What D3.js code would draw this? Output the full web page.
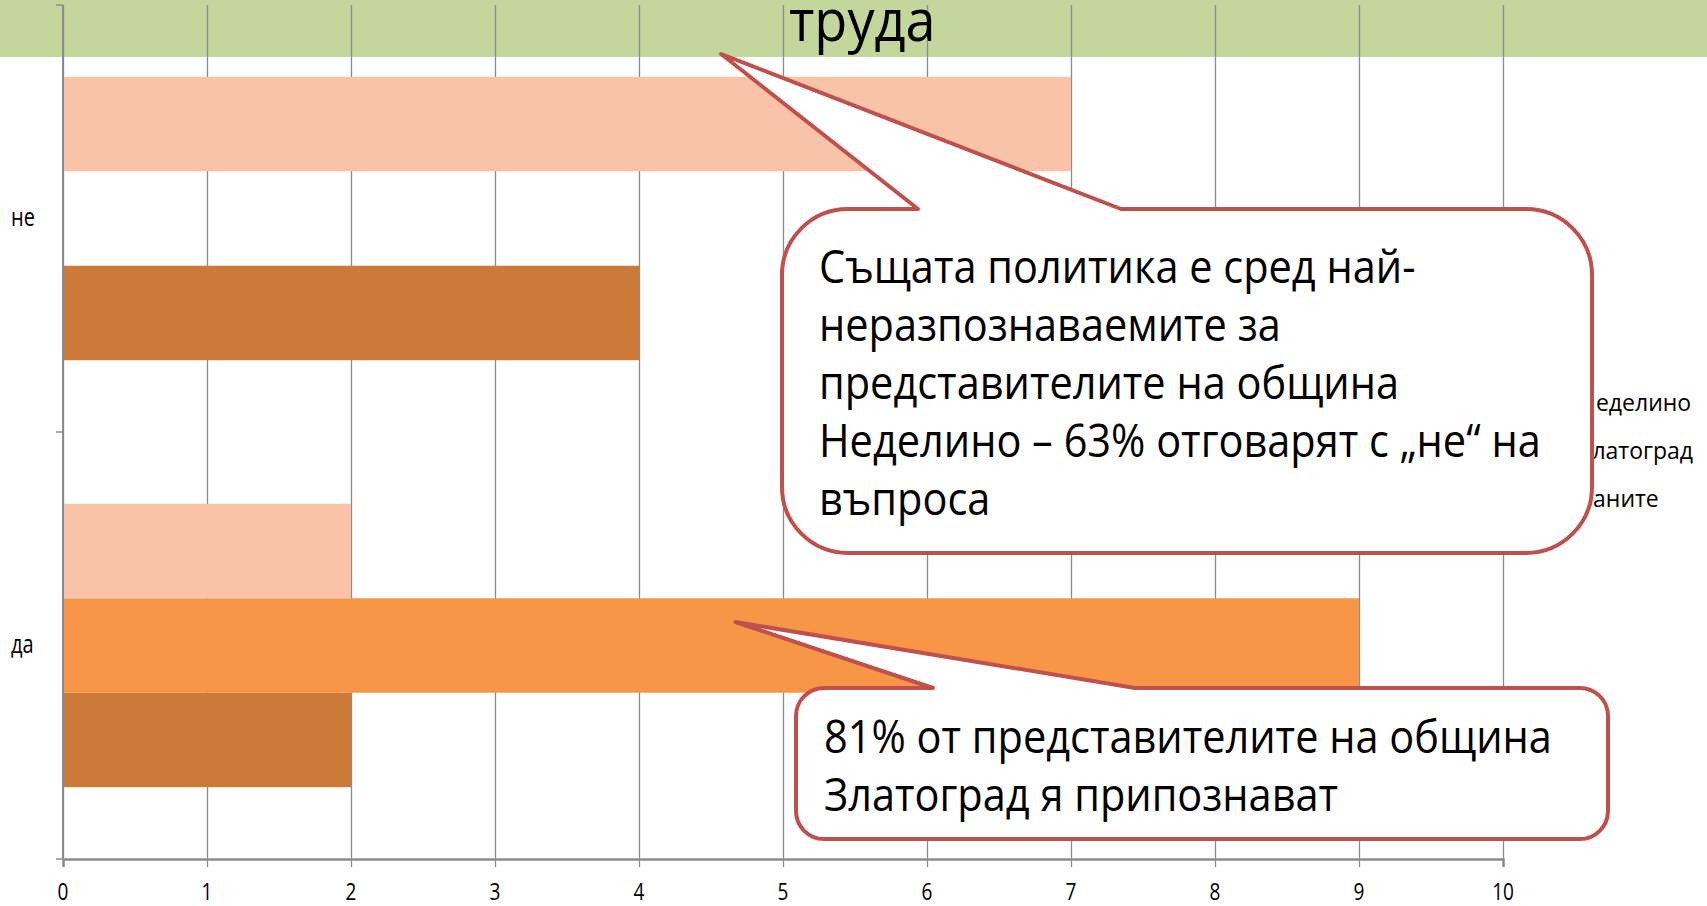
<!DOCTYPE html>
<html lang="bg">
<head>
<meta charset="UTF-8" />
<title>труда</title>
<style>
  body { margin: 0; background: #fff; overflow: hidden; }
  svg { display: block; font-family: "Open Sans", "Noto Sans", sans-serif; }
</style>
</head>
<body>
<script src="https://d3js.org/d3.v7.min.js"></script>
<script>
// данни
const categories = ["не", "да"];
const seriesNames = ["Неделино", "Златоград", "Баните"];
const nedelino = [4, 2];
const zlatograd = [0, 9];
const banite = [7, 2];
const xTicks = [0, 1, 2, 3, 4, 5, 6, 7, 8, 9, 10];
const titleText = "труда";
const note1 = ["Същата политика е сред най-", "неразпознаваемите за", "представителите на община", "Неделино – 63% отговарят с „не“ на", "въпроса"];
const note2 = ["81% от представителите на община", "Златоград я припознават"];

const W = 1707, H = 906;
const stretch = 1.25; // текстът в оригинала е разтеглен вертикално
const colors = { "Неделино": "#CC7A38", "Златоград": "#F79646", "Баните": "#F9C3A7" };
const seriesValues = { "Неделино": nedelino, "Златоград": zlatograd, "Баните": banite };

const svg = d3.select("body").append("svg").attr("width", W).attr("height", H);

// зелена лента на заглавието
svg.append("rect").attr("x", 0).attr("y", 0).attr("width", W).attr("height", 57).attr("fill", "#C3D69B");

const plot = { left: 63, right: 1503, top: 5, bottom: 859 };

const x = d3.scaleLinear().domain([0, 10]).range([plot.left, plot.right]);
const y = d3.scaleBand().domain(categories).range([plot.top, plot.bottom]).padding(0);
const inner = d3.scaleBand().domain(seriesNames.slice().reverse())
  .range([0, y.bandwidth()]).paddingInner(0).paddingOuter(0.76);

// решетка
svg.append("g")
  .attr("transform", `translate(0,${plot.bottom})`)
  .call(d3.axisBottom(x).tickValues(xTicks).tickSize(-(plot.bottom - plot.top)).tickFormat(""))
  .call(g => g.select(".domain").remove())
  .call(g => g.selectAll("line").attr("stroke", "#8C8C8C").attr("stroke-width", 1.3));

// колони
seriesNames.forEach(name => {
  svg.append("g").selectAll("rect")
    .data(categories.map((c, i) => ({ c, v: seriesValues[name][i] })))
    .join("rect")
    .attr("x", x(0))
    .attr("y", d => y(d.c) + inner(name))
    .attr("width", d => x(d.v) - x(0))
    .attr("height", inner.bandwidth())
    .attr("fill", colors[name]);
});

// оси
const xAxis = svg.append("g")
  .attr("transform", `translate(0,${plot.bottom})`)
  .call(d3.axisBottom(x).tickValues(xTicks).tickSize(8).tickFormat(""));
xAxis.select(".domain").attr("stroke", "#8C8C8C").attr("stroke-width", 2.5);
xAxis.selectAll("line").attr("stroke", "#8C8C8C").attr("stroke-width", 1.3);

svg.append("g").selectAll("text")
  .data(xTicks)
  .join("text")
  .attr("transform", d => `translate(${x(d)},900) scale(1,${stretch})`)
  .attr("text-anchor", "middle")
  .attr("font-size", 19)
  .text(d => d);

const yAxis = svg.append("g")
  .attr("transform", `translate(${plot.left},0)`);
yAxis.append("line").attr("x1", 0).attr("x2", 0).attr("y1", plot.top).attr("y2", plot.bottom)
  .attr("stroke", "#8C8C8C").attr("stroke-width", 2);
yAxis.selectAll("line.tick")
  .data([plot.top, y("да"), plot.bottom])
  .join("line").attr("class", "tick")
  .attr("x1", -7).attr("x2", 0).attr("y1", d => d).attr("y2", d => d)
  .attr("stroke", "#8C8C8C").attr("stroke-width", 1.5);

svg.append("g").selectAll("text")
  .data(categories)
  .join("text")
  .attr("transform", d => `translate(11,${y(d) + y.bandwidth() / 2 + 7}) scale(1,${stretch})`)
  .attr("font-size", 20)
  .text(d => d);

// легенда (частично скрита под балона)
const legend = svg.append("g");
seriesNames.forEach((name, i) => {
  const ly = 411 + i * 48;
  legend.append("rect").attr("x", 1555).attr("y", ly - 14).attr("width", 14).attr("height", 14).attr("fill", colors[name]);
  legend.append("text")
    .attr("transform", `translate(1579,${ly}) scale(1,1.05)`)
    .attr("font-size", 23)
    .text(name);
});

// заглавие
svg.append("text")
  .attr("transform", `translate(${x(5.55)},41) scale(1,1.08)`)
  .attr("text-anchor", "middle")
  .attr("font-size", 54)
  .text(titleText);

// балони
function calloutPath(b, tip) {
  const p = d3.path();
  p.moveTo(b.x0 + b.r, b.y0);
  p.lineTo(b.p0, b.y0);
  p.lineTo(tip[0], tip[1]);
  p.lineTo(b.p1, b.y0);
  p.lineTo(b.x1 - b.r, b.y0);
  p.arcTo(b.x1, b.y0, b.x1, b.y0 + b.r, b.r);
  p.lineTo(b.x1, b.y1 - b.r);
  p.arcTo(b.x1, b.y1, b.x1 - b.r, b.y1, b.r);
  p.lineTo(b.x0 + b.r, b.y1);
  p.arcTo(b.x0, b.y1, b.x0, b.y1 - b.r, b.r);
  p.lineTo(b.x0, b.y0 + b.r);
  p.arcTo(b.x0, b.y0, b.x0 + b.r, b.y0, b.r);
  p.closePath();
  return p.toString();
}

function callout(b, tip, lines, tx, ty, lh) {
  const g = svg.append("g");
  g.append("path")
    .attr("d", calloutPath(b, tip))
    .attr("fill", "#fff")
    .attr("stroke", "#C0504D")
    .attr("stroke-width", 4)
    .attr("stroke-linejoin", "round");
  lines.forEach((t, i) => {
    g.append("text")
      .attr("transform", `translate(${tx},${ty + i * lh}) scale(1,1.1)`)
      .attr("font-size", 41.5)
      .attr("fill", "#000")
      .text(t);
  });
}

callout({ x0: 782, y0: 209, x1: 1592, y1: 553, r: 66, p0: 918, p1: 1121 },
  [x(4.57), 54], note1, 819, 283, 58);
callout({ x0: 796, y0: 688, x1: 1608, y1: 839, r: 28, p0: 933, p1: 1135 },
  [x(4.67), 622], note2, 824, 753, 58);
</script>
</body>
</html>
